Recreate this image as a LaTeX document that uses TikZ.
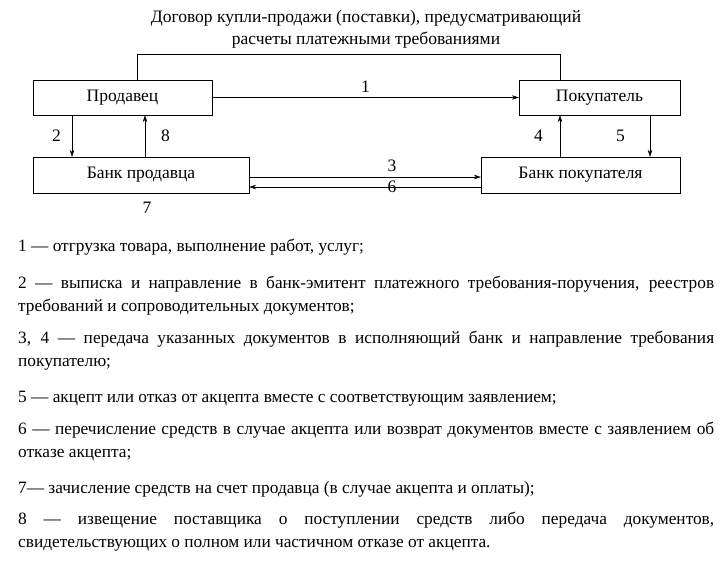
\documentclass[tikz,border=0pt]{standalone}
\usepackage{fontspec}
\setmainfont{Liberation Serif}
\usepackage{tikz}
\usetikzlibrary{arrows.meta}

\begin{document}
\begin{tikzpicture}[x=1pt,y=-1pt,
    box/.style={draw,inner sep=0pt,font=\fontsize{17.5}{20}\selectfont},
    lbl/.style={font=\fontsize{17.5}{20}\selectfont,inner sep=0pt},
    para/.style={anchor=north west,inner sep=0pt,text width=696pt,align=justify,
        font=\fontsize{17.3}{23}\selectfont},
    >={Stealth[length=7pt,width=4.5pt]}]
    \useasboundingbox (0,0) rectangle (726,570);

    \node[lbl,align=center,font=\fontsize{17.5}{22}\selectfont] (title) at (366,29)
        {Договор купли-продажи (поставки), предусматривающий\\расчеты платежными требованиями};

    \node[box,minimum width=179pt,minimum height=35pt] (seller) at (122.5,97.5) {Продавец};
    \node[box,minimum width=161pt,minimum height=35pt] (buyer) at (599.5,97.5) {Покупатель};
    \node[box,minimum width=216pt,minimum height=36pt] (sbank) at (141,175) {Банк продавца};
    \node[box,minimum width=199pt,minimum height=36pt] (bbank) at (580.5,175) {Банк покупателя};

    \coordinate (tl) at (137,54);
    \coordinate (tr) at (560,54);
    \draw (seller.north -| tl) -- (tl) -- (tr) -- (buyer.north -| tr);

    \draw[->] (seller) -- node[lbl,above=5pt] {1} (buyer);
    \draw[->] (seller.south -| 72,0) -- node[lbl,left=11pt] {2} (sbank.north -| 72,0);
    \draw[->] (sbank.north -| 145,0) -- node[lbl,right=16pt] {8} (seller.south -| 145,0);
    \draw[->] (sbank.east |- 0,177) -- node[lbl,above=5pt,xshift=27pt] {3} (bbank.west |- 0,177);
    \draw[->] (bbank.west |- 0,187) -- node[lbl,above=-6pt,xshift=27pt] {6} (sbank.east |- 0,187);
    \node[lbl] (n7) at (147,208) {7};
    \draw[->] (bbank.north -| 560,0) -- node[lbl,left=17pt] {4} (buyer.south -| 560,0);
    \draw[->] (buyer.south -| 650,0) -- node[lbl,left=25pt] {5} (bbank.north -| 650,0);

    \node[para] (p1) at (18,239) {1 — отгрузка товара, выполнение работ, услуг;};
    \node[para] (p2) at (18,276) {2 — выписка и направление в банк-эмитент платежного требования-поручения, реестров требований и сопроводительных документов;};
    \node[para] (p3) at (18,331) {3, 4 — передача указанных документов в исполняющий банк и направление требования покупателю;};
    \node[para] (p4) at (18,391) {5 — акцепт или отказ от акцепта вместе с соответствующим заявлением;};
    \node[para] (p5) at (18,422) {6 — перечисление средств в случае акцепта или возврат документов вместе с заявлением об отказе акцепта;};
    \node[para] (p6) at (18,481) {7— зачисление средств на счет продавца (в случае акцепта и оплаты);};
    \node[para] (p7) at (18,512) {8 — извещение поставщика о поступлении средств либо передача документов, свидетельствующих о полном или частичном отказе от акцепта.};
\end{tikzpicture}
\end{document}
